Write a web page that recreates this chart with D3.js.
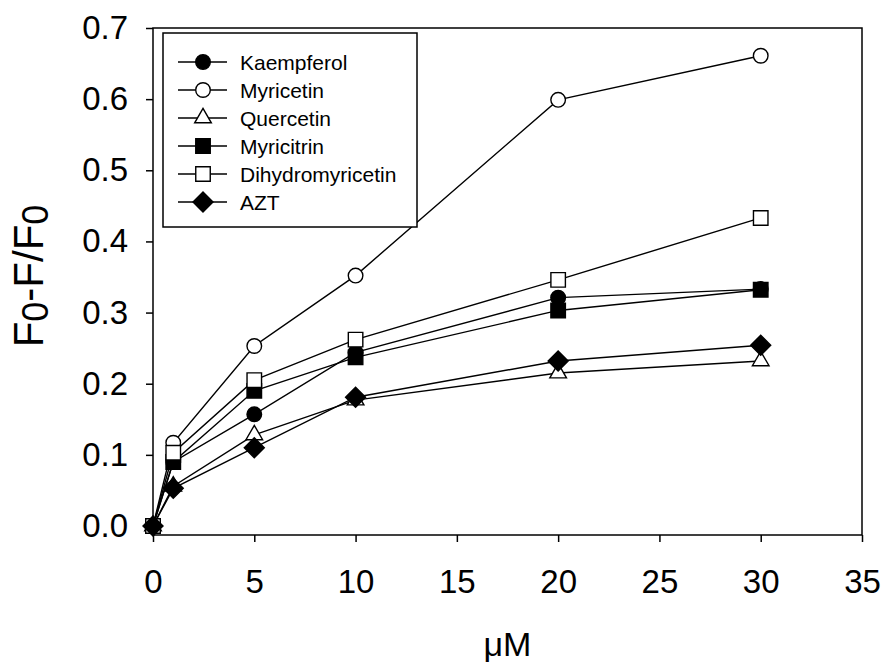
<!DOCTYPE html>
<html>
<head>
<meta charset="utf-8">
<script src="https://cdn.jsdelivr.net/npm/d3@7"></script>
<style>
  body { margin: 0; background: #fff; }
  svg { font-family: "Liberation Sans", Arial, sans-serif; }
</style>
</head>
<body>
<svg id="chart"></svg>
<script>
const concentrations = [0, 1, 5, 10, 20, 30];
const kaempferol = [0, 0.09, 0.157, 0.244, 0.321, 0.333];
const myricetin = [0, 0.117, 0.253, 0.352, 0.599, 0.661];
const quercetin = [0, 0.056, 0.128, 0.177, 0.215, 0.232];
const myricitrin = [0, 0.09, 0.19, 0.237, 0.303, 0.332];
const dihydromyricetin = [0, 0.103, 0.205, 0.262, 0.346, 0.433];
const azt = [0, 0.053, 0.11, 0.181, 0.232, 0.254];
const xTicks = [0, 5, 10, 15, 20, 25, 30, 35];
const yTicks = [0, 0.1, 0.2, 0.3, 0.4, 0.5, 0.6, 0.7];

const series = [
  { name: "Kaempferol", values: kaempferol, shape: "circle", fill: "#000" },
  { name: "Myricetin", values: myricetin, shape: "circle", fill: "#fff" },
  { name: "Quercetin", values: quercetin, shape: "triangle", fill: "#fff" },
  { name: "Myricitrin", values: myricitrin, shape: "square", fill: "#000" },
  { name: "Dihydromyricetin", values: dihydromyricetin, shape: "square", fill: "#fff" },
  { name: "AZT", values: azt, shape: "diamond", fill: "#000" }
];

const width = 884, height = 663;
const svg = d3.select("#chart").attr("width", width).attr("height", height);

const x = d3.scaleLinear().domain([0, 35]).range([153, 862]);
const y = d3.scaleLinear().domain([0, 0.7]).range([526, 28]);
const axisY = 535;

// symbol paths
function markerPath(shape) {
  if (shape === "circle") return d3.symbol(d3.symbolCircle, Math.PI * 7.3 * 7.3)();
  if (shape === "square") return d3.symbol(d3.symbolSquare, 14.5 * 14.5)();
  if (shape === "triangle") return d3.symbol(d3.symbolTriangle, 120)();
  if (shape === "diamond") {
    const r = 10;
    return `M0,${-r}L${r},0L0,${r}L${-r},0Z`;
  }
}

// frame
svg.append("rect")
  .attr("x", x(0)).attr("y", y(0.7))
  .attr("width", x(35) - x(0)).attr("height", axisY - y(0.7))
  .attr("fill", "none").attr("stroke", "#000").attr("stroke-width", 1.5);

// y axis
const yAxis = svg.append("g")
  .attr("transform", `translate(${x(0)},0)`)
  .call(d3.axisLeft(y).tickValues(yTicks).tickSize(7).tickPadding(18)
    .tickFormat(d3.format(".1f")));
yAxis.select(".domain").remove();
yAxis.selectAll("line").attr("stroke-width", 1.5);
yAxis.selectAll("text").attr("font-size", 33).attr("fill", "#000")
  .attr("font-family", "Liberation Sans, Arial, sans-serif");

// x axis
const xAxis = svg.append("g")
  .attr("transform", `translate(0,${axisY})`)
  .call(d3.axisBottom(x).tickValues(xTicks).tickSize(7).tickPadding(28));
xAxis.select(".domain").remove();
xAxis.selectAll("line").attr("stroke-width", 1.5);
xAxis.selectAll("text").attr("font-size", 33).attr("fill", "#000")
  .attr("font-family", "Liberation Sans, Arial, sans-serif");

// axis titles
svg.append("text")
  .attr("x", (x(0) + x(35)) / 2).attr("y", 656)
  .attr("text-anchor", "middle").attr("font-size", 34)
  .text("μM");

const yt = svg.append("text")
  .attr("transform", "translate(43,276) rotate(-90)")
  .attr("text-anchor", "middle").attr("font-size", 42);
yt.append("tspan").text("F");
yt.append("tspan").attr("font-size", 36).attr("dy", 5).text("0");
yt.append("tspan").attr("dy", -5).text("-F/F");
yt.append("tspan").attr("font-size", 36).attr("dy", 5).text("0");

// series
const line = d3.line()
  .x((d, i) => x(concentrations[i]))
  .y(d => y(d));

series.forEach(s => {
  const g = svg.append("g");
  g.append("path")
    .attr("d", line(s.values))
    .attr("fill", "none").attr("stroke", "#000").attr("stroke-width", 1.4);
  g.selectAll("path.mark")
    .data(s.values)
    .join("path")
    .attr("class", "mark")
    .attr("d", markerPath(s.shape))
    .attr("transform", (d, i) => `translate(${x(concentrations[i])},${y(d)})`)
    .attr("fill", s.fill).attr("stroke", "#000").attr("stroke-width", 1.4);
});

// legend
const legend = svg.append("g");
legend.append("rect")
  .attr("x", 163).attr("y", 33).attr("width", 254).attr("height", 194)
  .attr("fill", "#fff").attr("stroke", "#000").attr("stroke-width", 1.5);
series.forEach((s, i) => {
  const ly = 62 + i * 28;
  const row = legend.append("g").attr("transform", `translate(0,${ly})`);
  row.append("line").attr("x1", 178).attr("x2", 227).attr("y1", 0).attr("y2", 0)
    .attr("stroke", "#000").attr("stroke-width", 1.4);
  row.append("path").attr("d", markerPath(s.shape))
    .attr("transform", "translate(203,0)")
    .attr("fill", s.fill).attr("stroke", "#000").attr("stroke-width", 1.4);
  row.append("text").attr("x", 240).attr("y", 0).attr("dy", "0.36em")
    .attr("font-size", 21).text(s.name);
});
</script>
</body>
</html>
